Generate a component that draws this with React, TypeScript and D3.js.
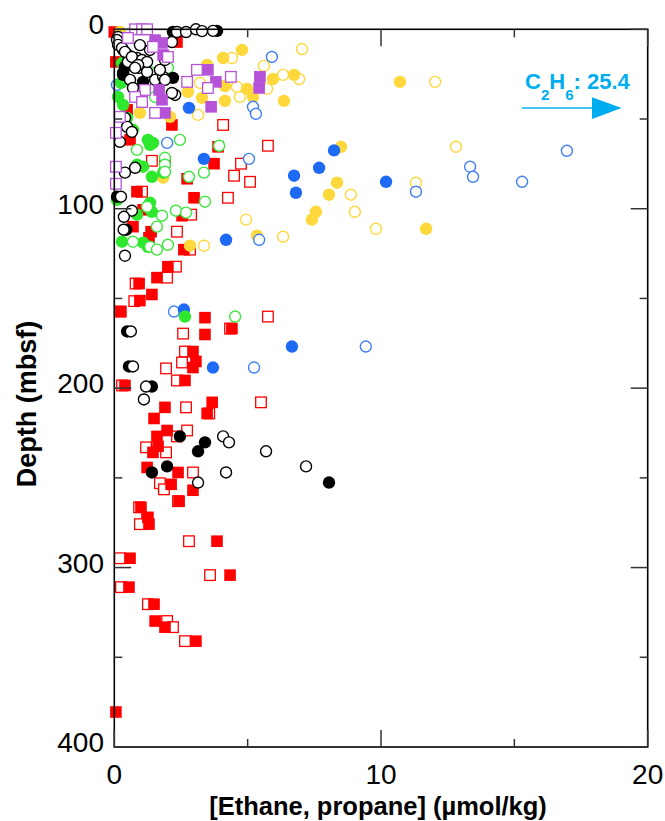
import React from "react";
import * as d3 from "d3";

// [concentration (µmol/kg), depth (mbsf)]
type Pt = [number, number];

const redEthane: Pt[] = [
  [0.0, 1.5], [2.35, 7.1], [0.06, 18.2], [0.48, 44.9], [2.16, 53.3], [0.59, 61.6],
  [3.89, 65.5], [1.9, 73.8], [3.74, 74.9], [2.73, 83.3], [0.85, 90.5], [2.99, 93.9],
  [1.08, 100.6], [2.54, 103.9], [0.7, 110.0], [1.38, 112.8], [1.3, 116.2], [2.61, 122.8],
  [2.01, 132.3], [1.6, 138.4], [0.93, 141.7], [1.41, 147.8], [0.96, 151.2], [0.25, 157.3],
  [3.4, 160.7], [4.41, 166.8], [3.4, 170.1], [2.95, 179.6], [3.06, 185.1], [2.95, 188.5],
  [2.65, 195.7], [0.4, 198.5], [1.9, 210.7], [3.67, 207.9], [3.48, 214.1], [1.49, 216.9],
  [1.98, 223.6], [1.6, 226.9], [1.64, 232.4], [1.45, 235.8], [1.23, 244.2], [2.39, 247.0],
  [2.13, 253.6], [2.95, 256.9], [2.43, 263.0], [1.0, 266.4], [1.26, 272.0], [1.3, 275.8],
  [3.85, 285.3], [0.59, 294.8], [4.34, 304.2], [0.55, 310.9], [1.49, 320.4], [1.53, 329.8],
  [1.9, 333.2], [3.06, 341.0], [0.06, 380.5],
];
const redPropane: Pt[] = [
  [4.08, 53.3], [5.76, 64.9], [1.41, 73.3], [4.75, 74.9], [4.49, 81.6], [5.09, 85.0],
  [4.26, 93.9], [2.88, 103.3], [2.35, 112.8], [1.04, 90.5], [2.84, 122.8], [2.31, 132.3],
  [1.98, 138.4], [0.8, 141.7], [0.75, 151.5], [0.21, 157.3], [5.76, 160.1], [4.34, 166.8],
  [2.58, 169.6], [2.65, 179.6], [2.54, 185.7], [1.94, 189.0], [2.35, 195.7], [0.29, 198.5],
  [2.69, 210.7], [5.5, 207.9], [3.56, 214.1], [2.73, 223.6], [2.35, 226.9], [1.19, 233.0],
  [1.94, 235.8], [2.95, 247.0], [1.71, 253.0], [1.86, 256.4], [2.39, 263.0], [0.93, 266.4],
  [1.23, 272.5], [0.96, 275.8], [2.8, 285.3], [0.21, 294.8], [3.59, 304.2], [0.25, 310.9],
  [1.26, 320.4], [1.98, 329.8], [2.2, 333.2], [2.65, 341.0],
];
const yellowEthane: Pt[] = [
  [0.21, 1.5], [4.79, 11.5], [4.08, 16.0], [3.48, 19.9], [5.95, 27.7], [6.74, 25.4],
  [4.98, 33.2], [4.15, 31.6], [5.2, 37.7], [6.36, 39.9], [4.15, 39.9], [3.29, 38.2],
  [2.76, 34.9], [10.71, 29.3], [8.5, 65.5], [8.35, 85.5], [8.05, 92.2], [7.56, 101.7],
  [7.41, 106.1], [11.69, 111.2], [5.35, 115.0], [0.96, 46.6], [2.09, 48.8], [1.83, 82.7],
  [2.84, 120.6],
];
const yellowPropane: Pt[] = [
  [7.04, 11.0], [4.41, 16.0], [5.61, 20.4], [6.33, 25.4], [6.93, 27.7], [4.6, 32.1],
  [5.73, 33.2], [4.71, 37.7], [3.14, 47.7], [3.21, 29.9], [12.03, 29.3], [12.81, 65.5],
  [11.31, 85.5], [8.87, 92.2], [9.02, 101.7], [9.81, 111.2], [6.33, 115.6], [4.94, 106.1],
  [3.36, 120.6],
];
const blueEthane: Pt[] = [
  [2.8, 43.8], [8.24, 67.5], [3.36, 72.2], [6.74, 81.6], [6.81, 91.1], [7.68, 77.2],
  [10.19, 85.0], [4.19, 117.3], [2.61, 156.2], [6.66, 176.8], [3.7, 188.5],
];
const bluePropane: Pt[] = [
  [0.1, 31.0], [5.91, 15.4], [5.2, 43.2], [5.31, 47.1], [1.98, 63.3], [5.05, 72.2],
  [11.31, 90.5], [13.34, 76.6], [13.45, 82.2], [16.97, 67.7], [15.29, 85.0], [5.43, 117.3],
  [2.24, 157.3], [5.24, 188.5], [9.43, 176.8],
];
const greenEthane: Pt[] = [
  [0.29, 18.8], [0.25, 29.9], [0.14, 37.7], [0.33, 42.1], [1.26, 61.6], [1.45, 63.3],
  [1.34, 64.4], [0.85, 75.5], [1.08, 76.6], [1.41, 82.2], [1.83, 79.9], [1.34, 96.7],
  [1.41, 101.7], [0.85, 103.3], [0.29, 118.4], [1.08, 118.9], [1.26, 121.2], [2.65, 160.1],
  [0.1, 95.0], [0.48, 49.4], [0.7, 56.0],
];
const greenPropane: Pt[] = [
  [0.59, 19.9], [1.34, 23.8], [2.01, 21.5], [1.53, 37.7], [2.46, 61.6], [0.85, 67.2],
  [1.9, 71.6], [1.9, 75.5], [1.9, 79.4], [2.8, 82.2], [3.36, 79.9], [3.4, 96.1],
  [1.23, 98.9], [2.31, 101.1], [2.69, 102.2], [1.79, 103.9], [1.6, 110.0], [0.7, 118.4],
  [2.01, 120.1], [1.34, 121.2], [1.6, 122.8], [3.93, 64.9], [4.53, 160.1],
];
const blackEthane: Pt[] = [
  [3.85, 0.9], [2.2, 1.5], [2.2, 27.1], [1.08, 29.3], [0.33, 24.3], [0.1, 93.3],
  [0.45, 111.7], [0.48, 168.4], [0.55, 187.9], [1.41, 199.1], [2.46, 226.9], [3.4, 230.2],
  [3.14, 235.2], [1.98, 243.6], [1.41, 247.0], [8.05, 252.6], [0.4, 21.0], [0.33, 25.4],
];
const blackPropane: Pt[] = [
  [2.35, 1.5], [2.69, 1.5], [3.06, 0.0], [3.7, 0.9], [3.29, 1.0], [0.14, 4.3], [0.21, 7.6],
  [0.33, 11.5], [0.51, 14.3], [0.85, 16.0], [1.08, 19.9], [0.93, 21.5], [0.59, 28.2],
  [1.53, 28.2], [1.83, 26.5], [2.28, 36.6], [1.34, 11.5], [1.53, 7.6], [0.4, 49.4],
  [0.48, 54.4], [0.66, 57.2], [0.21, 62.7], [0.78, 77.2], [0.4, 79.9], [0.25, 93.3],
  [0.35, 111.7], [0.66, 101.1], [0.36, 104.5], [0.4, 126.2], [0.62, 168.4], [0.7, 187.9],
  [1.19, 199.1], [1.11, 206.3], [4.08, 226.9], [4.3, 230.2], [5.69, 235.2], [4.19, 247.0],
  [3.14, 252.6], [7.19, 243.6], [0.96, 8.8], [0.51, 18.2], [1.23, 23.8], [1.9, 17.1],
  [1.71, 22.6], [0.1, 6.0], [0.14, 8.7], [0.29, 10.4], [0.4, 12.6], [0.66, 15.4],
  [1.04, 17.1], [1.23, 18.2], [0.89, 19.9], [0.78, 21.5], [2.16, 7.1], [0.7, 32.7],
  [2.16, 35.5], [1.9, 28.2],
];
const purpleEthane: Pt[] = [
  [1.53, 6.0], [1.79, 7.6], [1.83, 14.3], [3.51, 22.6], [3.81, 29.3], [5.46, 26.5],
  [5.43, 32.7], [3.63, 43.2], [1.68, 33.8], [1.79, 39.3], [1.9, 46.6],
];
const purplePropane: Pt[] = [
  [0.78, 0.0], [1.04, 0.0], [1.23, 0.0], [0.51, 4.8], [1.45, 9.8], [2.01, 15.4],
  [3.1, 22.6], [2.73, 29.3], [4.37, 26.5], [3.51, 32.7], [1.15, 33.8], [0.78, 37.7],
  [1.04, 40.5], [1.53, 46.6], [0.21, 48.8], [0.06, 57.7], [0.06, 76.6], [0.06, 86.1],
];

const xTicks = [0, 10, 20];
const xMinor = [5, 15];
const yTicks = [0, 100, 200, 300, 400];
const yMinor = [50, 150, 250, 350];

type Series = { data: Pt[]; color: string; shape: "circle" | "square"; filled: boolean };

// drawing order, back to front
const series: Series[] = [
  { data: redPropane, color: "#ff0000", shape: "square", filled: false },
  { data: redEthane, color: "#ff0000", shape: "square", filled: true },
  { data: yellowPropane, color: "#ffd83c", shape: "circle", filled: false },
  { data: yellowEthane, color: "#ffd83c", shape: "circle", filled: true },
  { data: bluePropane, color: "#3f7ff5", shape: "circle", filled: false },
  { data: blueEthane, color: "#1f6af5", shape: "circle", filled: true },
  { data: greenEthane, color: "#2ee82e", shape: "circle", filled: true },
  { data: greenPropane, color: "#3ce63c", shape: "circle", filled: false },
  { data: blackEthane, color: "#000000", shape: "circle", filled: true },
  { data: blackPropane, color: "#000000", shape: "circle", filled: false },
  { data: purpleEthane, color: "#b552d7", shape: "square", filled: true },
  { data: purplePropane, color: "#b552d7", shape: "square", filled: false },
];

const W = 665;
const H = 821;
const left = 114.3;
const right = 647.7;
const top = 29.3;
const bottom = 747;

const App: React.FC = () => {
  const x = d3.scaleLinear().domain([0, 20]).range([left, right]);
  const y = d3.scaleLinear().domain([0, 400]).range([top, bottom]);
  const font = "'Liberation Sans', Arial, Helvetica, sans-serif";
  const cyan = "#00aeef";

  const marker = (s: Series, p: Pt, i: number) => {
    const cx = x(p[0]);
    const cy = y(p[1]);
    if (s.shape === "circle") {
      return s.filled ? (
        <circle key={i} cx={cx} cy={cy} r={6.2} fill={s.color} />
      ) : (
        <circle key={i} cx={cx} cy={cy} r={5.5} fill="#fff" stroke={s.color} strokeWidth={1.4} />
      );
    }
    return s.filled ? (
      <rect key={i} x={cx - 5.8} y={cy - 5.8} width={11.6} height={11.6} fill={s.color} />
    ) : (
      <rect key={i} x={cx - 5.3} y={cy - 5.3} width={10.6} height={10.6} fill="#fff" stroke={s.color} strokeWidth={1.3} />
    );
  };

  return (
    <svg
      width={W}
      height={H}
      style={{ position: "absolute", left: 0, top: 0, background: "#fff" }}
      fontFamily={font}
    >
      {/* points */}
      <g>
        {series.map((s, si) => (
          <g key={si}>{s.data.map((p, i) => marker(s, p, i))}</g>
        ))}
      </g>

      {/* frame */}
      <rect x={left} y={top} width={right - left} height={bottom - top} fill="none" stroke="#000" strokeWidth={1.6} />

      {/* ticks, pointing inward on all four sides */}
      <g stroke="#333" strokeWidth={1.5}>
        {xTicks.map((t) => (
          <g key={"xt" + t}>
            <line x1={x(t)} x2={x(t)} y1={bottom} y2={bottom - 17} />
            <line x1={x(t)} x2={x(t)} y1={top} y2={top + 17} />
          </g>
        ))}
        {xMinor.map((t) => (
          <g key={"xm" + t}>
            <line x1={x(t)} x2={x(t)} y1={bottom} y2={bottom - 8} />
            <line x1={x(t)} x2={x(t)} y1={top} y2={top + 8} />
          </g>
        ))}
        {yTicks.map((t) => (
          <g key={"yt" + t}>
            <line x1={left} x2={left + 17} y1={y(t)} y2={y(t)} />
            <line x1={right} x2={right - 17} y1={y(t)} y2={y(t)} />
          </g>
        ))}
        {yMinor.map((t) => (
          <g key={"ym" + t}>
            <line x1={left} x2={left + 8} y1={y(t)} y2={y(t)} />
            <line x1={right} x2={right - 8} y1={y(t)} y2={y(t)} />
          </g>
        ))}
      </g>

      {/* tick labels */}
      <g fontSize={28} fill="#000">
        {xTicks.map((t) => (
          <text key={"xl" + t} x={x(t)} y={784} textAnchor="middle">
            {t}
          </text>
        ))}
        {yTicks.map((t) => (
          <text key={"yl" + t} x={104} y={y(t) + 5} textAnchor="end">
            {t}
          </text>
        ))}
      </g>

      {/* axis titles */}
      <text x={(left + right) / 2 - 3} y={815} textAnchor="middle" fontSize={25.5} fontWeight="bold">
        [Ethane, propane] (µmol/kg)
      </text>
      <text
        transform={`translate(36, ${404}) rotate(-90)`}
        textAnchor="middle"
        fontSize={27}
        fontWeight="bold"
      >
        Depth (mbsf)
      </text>

      {/* off-scale annotation */}
      <text x={525} y={89} fontSize={22} fontWeight="bold" fill={cyan}>
        C<tspan fontSize={15} dy={11}>2</tspan>
        <tspan dy={-11}>H</tspan>
        <tspan fontSize={15} dy={11}>6</tspan>
        <tspan dy={-11}>: 25.4</tspan>
      </text>
      <line x1={522} x2={594} y1={108} y2={108} stroke={cyan} strokeWidth={1.5} />
      <path d="M592,97.3 L621.7,108 L592,119 Z" fill={cyan} />
    </svg>
  );
};

export default App;
